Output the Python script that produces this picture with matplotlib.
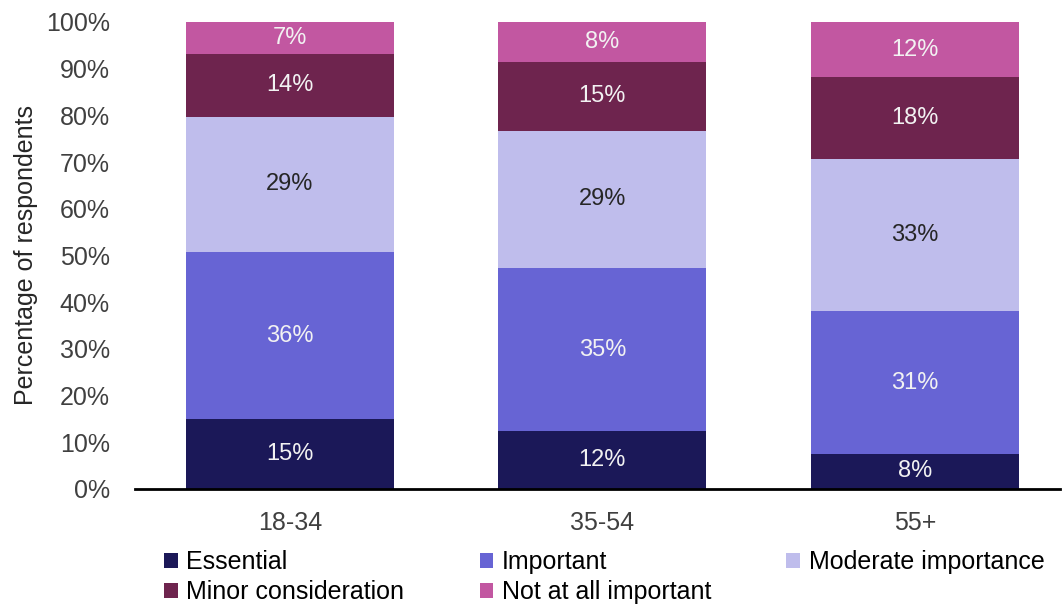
import matplotlib.pyplot as plt
import numpy as np

plt.rcParams['font.family'] = ['Liberation Sans', 'DejaVu Sans']

groups = ["18-34", "35-54", "55+"]
categories = ["Essential", "Important", "Moderate importance",
              "Minor consideration", "Not at all important"]
essential = [15.0, 12.4, 7.5]
important = [35.7, 34.9, 30.6]
moderate = [29.0, 29.4, 32.6]
minor = [13.4, 14.8, 17.5]
not_at_all = [6.9, 8.5, 11.8]
labels = [[15, 12, 8], [36, 35, 31], [29, 29, 33], [14, 15, 18], [7, 8, 12]]

colors = ["#1B1858", "#6764D4", "#BFBDEC", "#6E244E", "#C257A1"]
text_colors = ["#F2F2F2", "#F2F2F2", "#262626", "#F2F2F2", "#F2F2F2"]

fig = plt.figure(figsize=(10.62, 6.07), dpi=100)
ax = fig.add_axes([0.127, 0.1944, 0.871, 0.7694])

x = np.arange(len(groups))
bottom = np.zeros(len(groups))
series = [essential, important, moderate, minor, not_at_all]
handles = []
for vals, name, c, tc, lab in zip(series, categories, colors, text_colors, labels):
    vals = np.array(vals)
    h = ax.bar(x, vals, 0.666, bottom=bottom, color=c, label=name)
    handles.append(h)
    for xi, b, v, l in zip(x, bottom, vals, lab):
        ax.text(xi, b + v / 2, f"{l}%", ha='center', va='center',
                color=tc, fontsize=17)
    bottom += vals

ax.set_ylim(0, 100)
ax.set_xlim(-0.496, 2.464)
ax.set_yticks(np.arange(0, 101, 10))
ax.set_yticklabels([f"{v}%" for v in range(0, 101, 10)])
ax.set_xticks(x)
ax.set_xticklabels(groups)
ax.tick_params(length=0, labelsize=18, colors="#404040")
ax.tick_params(axis='y', pad=18)
ax.tick_params(axis='x', pad=16)
for s in ['top', 'right', 'left']:
    ax.spines[s].set_visible(False)
ax.spines['bottom'].set_linewidth(2)
ax.spines['bottom'].set_color('black')
ax.set_ylabel("Percentage of respondents", fontsize=18, color="#262626", labelpad=6)

# legend fills by column, so reorder to read row by row
order = [0, 3, 1, 4, 2]
fig.legend([handles[i] for i in order], [categories[i] for i in order],
           loc='upper left', bbox_to_anchor=(164 / 1062, 1 - 550 / 607),
           ncol=3, frameon=False, fontsize=18, handlelength=0.55,
           handleheight=0.55, handletextpad=0.35, columnspacing=3.0,
           labelspacing=0.25, borderpad=0, borderaxespad=0)

fig.savefig("out.png", dpi=100)
